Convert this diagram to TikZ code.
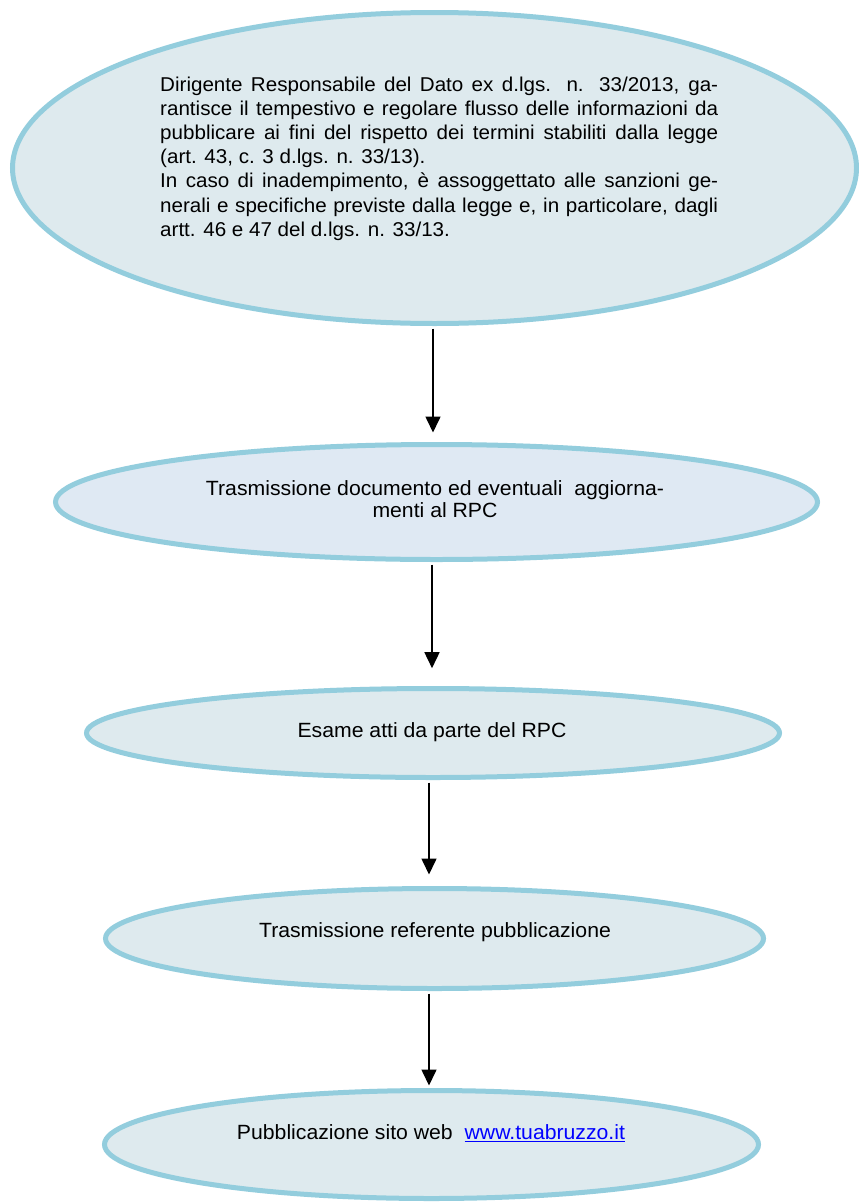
\documentclass[tikz,border=0pt]{standalone}
\usepackage{fontspec}
\setmainfont{Liberation Sans}[FakeStretch=1.03]
\usetikzlibrary{shapes.geometric,arrows.meta}
\definecolor{bordo}{RGB}{147,205,221}
\definecolor{fondo}{RGB}{222,234,238}
\definecolor{fondob}{RGB}{223,233,243}
\definecolor{linkblu}{RGB}{0,0,255}
\begin{document}
\begin{tikzpicture}[x=1pt,y=-1pt,
  oval/.style={ellipse,draw=bordo,line width=5pt,fill=fondo,inner sep=0pt},
  arr/.style={draw=black,line width=1.6pt,-{Triangle[width=15pt,length=16pt]},shorten <=2.5pt},
  lbl/.style={inner sep=0pt,font=\fontsize{20.6}{22}\selectfont,align=center}]
\useasboundingbox (0,0) rectangle (859,1202);
\fill[white] (0,0) rectangle (859,1202);
% ellipses
\node[oval,minimum width=844pt,minimum height=311pt] (e1) at (434.5,168) {};
\node[oval,fill=fondob,minimum width=762pt,minimum height=115pt] (e2) at (436.5,502) {};
\node[oval,minimum width=693pt,minimum height=89pt] (e3) at (433,733) {};
\node[oval,minimum width=658pt,minimum height=100pt] (e4) at (434.5,938.5) {};
\node[oval,minimum width=654pt,minimum height=108pt] (e5) at (431.5,1144.5) {};
% connectors
\draw[arr,shorten >=9.5pt] ([xshift=-1.5pt]e1.south) -- ([xshift=-1.5pt]e1.south |- e2.north);
\draw[arr,shorten >=17.8pt] ([xshift=-4.5pt]e2.south) -- ([xshift=-4.5pt]e2.south |- e3.north);
\draw[arr,shorten >=11.5pt] ([xshift=-4pt]e3.south) -- ([xshift=-4pt]e3.south |- e4.north);
\draw[arr,shorten >=2.5pt] ([xshift=-5.5pt]e4.south) -- ([xshift=-5.5pt]e4.south |- e5.north);
% texts
\node[inner sep=0pt,anchor=north west,text width=558pt,align=justify,
  font=\fontsize{20}{24.2}\selectfont] (t1) at (160,76.5)
  {\parindent=0pt\tolerance=9999 Dirigente Responsabile del Dato ex d.lgs. n. 33/2013, ga-\linebreak
   rantisce il tempestivo e regolare flusso delle informazioni da\linebreak
   pubblicare ai fini del rispetto dei termini stabiliti dalla legge\linebreak
   (art. 43, c. 3 d.lgs. n. 33/13).\par
   In caso di inadempimento, è assoggettato alle sanzioni ge-\linebreak
   nerali e specifiche previste dalla legge e, in particolare, dagli\linebreak
   artt. 46 e 47 del d.lgs. n. 33/13.};
\node[lbl,anchor=north] (t2) at (435,480.5) {Trasmissione documento ed eventuali\ \ aggiorna-\\menti al RPC};
\node[lbl,anchor=base] (t3) at (432,737.5) {Esame atti da parte del RPC};
\node[lbl,anchor=base] (t4) at (435,937.5) {Trasmissione referente pubblicazione};
\node[lbl,anchor=base] (t5) at (431,1139.5) {Pubblicazione sito web\ \ \textcolor{linkblu}{\underline{www.tuabruzzo.it}}};
\end{tikzpicture}
\end{document}
